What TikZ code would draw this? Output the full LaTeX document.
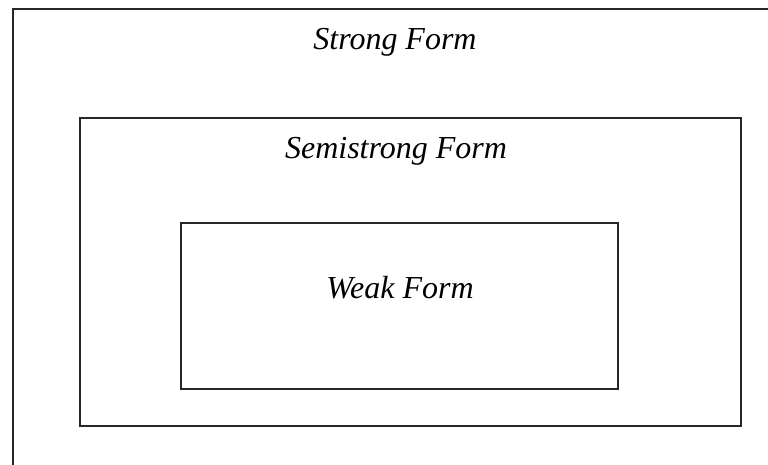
\documentclass[tikz,border=0pt]{standalone}
\usepackage{fontspec}
\setmainfont{Liberation Serif}
\begin{document}
\begin{tikzpicture}[x=1pt,y=-1pt,
  box/.style={draw=black!85,line width=1.6pt,inner sep=0pt,anchor=north west},
  lbl/.style={font=\fontsize{32}{37}\selectfont\itshape,anchor=base,inner sep=0pt}]
\useasboundingbox (0,0) rectangle (768,464);
\clip (0,0) rectangle (768,464);
\fill[white] (0,0) rectangle (768,464);
\node[box,minimum width=780pt,minimum height=470pt] (strong) at (12,8) {};
\node[box,minimum width=661pt,minimum height=308pt] (semi) at (79,117) {};
\node[box,minimum width=437pt,minimum height=166pt] (weak) at (180,222) {};
\node[lbl] (strongl) at (395,49) {Strong Form};
\node[lbl] (semil) at (396,158) {Semistrong Form};
\node[lbl] (weakl) at (400,298) {Weak Form};
\end{tikzpicture}
\end{document}
